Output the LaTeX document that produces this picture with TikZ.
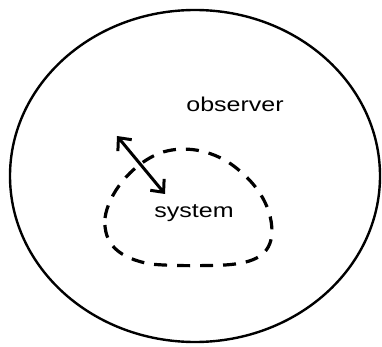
\documentclass[tikz,border=0pt]{standalone}
\usepackage{fontspec}
\setmainfont{Liberation Sans}
\usetikzlibrary{arrows.meta}
\begin{document}
\begin{tikzpicture}[x=1pt,y=-1pt,
  lbl/.style={font=\fontsize{20}{24}\selectfont, inner sep=0pt, xscale=1.25, transform shape},
  blob/.style={line width=3.2pt, dash pattern=on 13pt off 10pt},
  dblarrow/.style={line width=3pt, {Straight Barb[length=10pt,width=18pt]}-{Straight Barb[length=10pt,width=18pt]}}]
\useasboundingbox (0,0) rectangle (382,347);
\draw[line width=2.4pt] (195,176) ellipse [x radius=185, y radius=166];
\draw[blob] (105,218) .. controls (108,195) and (130,165) .. (160,153)
  .. controls (180,146) and (205,148) .. (228,162)
  .. controls (255,180) and (272,205) .. (272,232)
  .. controls (271,255) and (255,263) .. (225,265)
  .. controls (200,266) and (170,266) .. (150,264)
  .. controls (120,258) and (103,245) .. (105,218);
\node[lbl] (obs) at (235,104) {observer};
\node[lbl] (sys) at (194,213) {system};
\coordinate (a1) at (117,136);
\coordinate (a2) at (165,194);
\draw[dblarrow] (a1) -- (a2);
\end{tikzpicture}
\end{document}
